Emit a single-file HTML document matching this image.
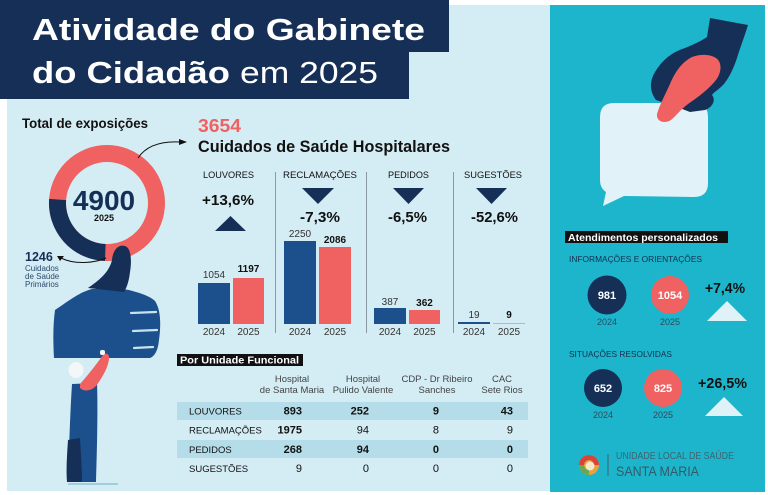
<!DOCTYPE html>
<html><head><meta charset="utf-8"><style>
html,body{margin:0;padding:0;background:#fff;}
svg{display:block;font-family:"Liberation Sans",sans-serif;}
</style></head><body>
<svg width="768" height="495" viewBox="0 0 768 495" xmlns="http://www.w3.org/2000/svg">
<rect x="0" y="0" width="768" height="495" fill="#ffffff"/>
<rect x="7" y="5" width="543" height="486" fill="#d4ecf4"/>
<rect x="550" y="5" width="215" height="487" fill="#1cb5cb"/>
<!-- title -->
<rect x="0" y="0" width="449" height="52" fill="#152f57"/>
<rect x="0" y="52" width="409" height="47" fill="#152f57"/>
<text x="32" y="40" font-size="31" font-weight="bold" fill="#fff" textLength="393" lengthAdjust="spacingAndGlyphs">Atividade do Gabinete</text>
<text x="32" y="83" font-size="31" font-weight="bold" fill="#fff" textLength="198" lengthAdjust="spacingAndGlyphs">do Cidadão</text>
<text x="240" y="83" font-size="31" fill="#fff" textLength="138" lengthAdjust="spacingAndGlyphs">em 2025</text>

<!-- total -->
<text x="22" y="128" font-size="14" font-weight="bold" fill="#111" textLength="126" lengthAdjust="spacingAndGlyphs">Total de exposições</text>
<circle cx="107" cy="203" r="49.5" fill="none" stroke="#f06161" stroke-width="17"/>
<path d="M105.3,252.5 A49.5,49.5 0 0 1 57.6,199.5" fill="none" stroke="#152f57" stroke-width="17"/>
<text x="104" y="210" font-size="28" font-weight="bold" fill="#152f57" text-anchor="middle">4900</text>
<text x="104" y="221" font-size="9" font-weight="bold" fill="#111" text-anchor="middle">2025</text>
<path d="M138,158 C146,146 160,141 180,142" fill="none" stroke="#111" stroke-width="1"/>
<polygon points="187,142 179,139 179,145" fill="#111"/>
<text x="25" y="261" font-size="12.5" font-weight="bold" fill="#152f57">1246</text>
<polygon points="60,261 57,256 64,256" fill="#111"/>
<path d="M61,258 C75,265 95,263 106,258" fill="none" stroke="#111" stroke-width="1"/>
<text x="25" y="271" font-size="8" fill="#2b4a6b">Cuidados</text>
<text x="25" y="279" font-size="8" fill="#2b4a6b">de Saúde</text>
<text x="25" y="287" font-size="8" fill="#2b4a6b">Primários</text>

<!-- thumbs up illustration -->
<path d="M55,310 C70,300 80,292 92,289 L124,289 C138,292 150,296 155,301 C161,310 161,325 159,340 C158,350 155,356 150,358 L54,358 C53,340 53,325 55,310 Z" fill="#1b508c"/>
<path d="M112,260 C113,249 119,244 125,246 C131,248 132,260 130,272 C129,281 127,287 124,292 L88,288 C98,281 109,273 112,260 Z" fill="#152f57"/>
<g stroke="#c9e3ee" stroke-width="2.2" stroke-linecap="round">
<line x1="131" y1="313" x2="156" y2="312"/>
<line x1="133" y1="331" x2="157" y2="330"/>
<line x1="134" y1="348" x2="153" y2="347"/>
</g>
<path d="M72,384 L97,383 C98,410 97,450 96,482 L68,482 C69,450 70,415 72,384 Z" fill="#1b508c"/>
<path d="M68,440 L80,438 C81,455 82,470 82,482 L67,482 C66,470 67,455 68,440 Z" fill="#152f57"/>
<path d="M80,384 C88,375 96,365 103,355 C106,352 110,354 109,359 C108,368 102,378 96,386 C91,391 84,392 80,388 Z" fill="#f06161"/>
<ellipse cx="76" cy="370" rx="7.5" ry="8" fill="#f4f7f8"/>
<rect x="100" y="350" width="5" height="5" rx="2" fill="#f4f7f8"/>
<rect x="68" y="483" width="50" height="2" fill="#9fcfd8"/>

<!-- hospital care -->
<text x="198" y="132" font-size="18" font-weight="bold" fill="#f06161" textLength="43" lengthAdjust="spacingAndGlyphs">3654</text>
<text x="198" y="152" font-size="17" font-weight="bold" fill="#111" textLength="252" lengthAdjust="spacingAndGlyphs">Cuidados de Saúde Hospitalares</text>
<g font-size="9.5" fill="#111">
<text x="203" y="178" textLength="51" lengthAdjust="spacingAndGlyphs">LOUVORES</text>
<text x="283" y="178" textLength="74" lengthAdjust="spacingAndGlyphs">RECLAMAÇÕES</text>
<text x="388" y="178" textLength="41" lengthAdjust="spacingAndGlyphs">PEDIDOS</text>
<text x="464" y="178" textLength="58" lengthAdjust="spacingAndGlyphs">SUGESTÕES</text>
</g>
<g stroke="#8a9aa2" stroke-width="1">
<line x1="275.5" y1="172" x2="275.5" y2="333"/>
<line x1="366.5" y1="172" x2="366.5" y2="333"/>
<line x1="453.5" y1="172" x2="453.5" y2="333"/>
</g>
<g font-size="15" font-weight="bold" fill="#111">
<text x="202" y="205" textLength="52" lengthAdjust="spacingAndGlyphs">+13,6%</text>
<text x="300" y="222" textLength="40" lengthAdjust="spacingAndGlyphs">-7,3%</text>
<text x="388" y="222" textLength="39" lengthAdjust="spacingAndGlyphs">-6,5%</text>
<text x="471" y="222" textLength="47" lengthAdjust="spacingAndGlyphs">-52,6%</text>
</g>
<g fill="#152f57">
<polygon points="215,231 246,231 230.5,216"/>
<polygon points="302,188 334,188 318,204"/>
<polygon points="393,188 424,188 408.5,204"/>
<polygon points="476,188 507,188 491.5,204"/>
</g>
<g>
<rect x="198" y="283" width="32" height="41" fill="#1b508c"/>
<rect x="233" y="278" width="31" height="46" fill="#f06161"/>
<rect x="284" y="241" width="32" height="83" fill="#1b508c"/>
<rect x="319" y="247" width="32" height="77" fill="#f06161"/>
<rect x="374" y="308" width="32" height="16" fill="#1b508c"/>
<rect x="409" y="310" width="31" height="14" fill="#f06161"/>
<rect x="458" y="322" width="32" height="2" fill="#1b508c"/>
<rect x="493" y="323" width="32" height="1" fill="#f0a0a0"/>
</g>
<g font-size="10" fill="#333" text-anchor="middle">
<text x="214" y="278">1054</text>
<text x="300" y="237">2250</text>
<text x="390" y="305">387</text>
<text x="474" y="318">19</text>
</g>
<g font-size="10" font-weight="bold" fill="#111" text-anchor="middle">
<text x="248.5" y="272">1197</text>
<text x="335" y="243">2086</text>
<text x="424.5" y="306">362</text>
<text x="509" y="318">9</text>
</g>
<g font-size="10" fill="#333" text-anchor="middle">
<text x="214" y="335">2024</text><text x="248.5" y="335">2025</text>
<text x="300" y="335">2024</text><text x="335" y="335">2025</text>
<text x="390" y="335">2024</text><text x="424.5" y="335">2025</text>
<text x="474" y="335">2024</text><text x="509" y="335">2025</text>
</g>

<!-- table -->
<rect x="177" y="354" width="126" height="12" fill="#111"/>
<text x="180" y="363.5" font-size="10" font-weight="bold" fill="#fff" textLength="119" lengthAdjust="spacingAndGlyphs">Por Unidade Funcional</text>
<g font-size="9.5" fill="#444" text-anchor="middle">
<text x="292" y="382">Hospital</text><text x="292" y="393">de Santa Maria</text>
<text x="363" y="382">Hospital</text><text x="363" y="393">Pulido Valente</text>
<text x="437" y="382">CDP - Dr Ribeiro</text><text x="437" y="393">Sanches</text>
<text x="502" y="382">CAC</text><text x="502" y="393">Sete Rios</text>
</g>
<rect x="177" y="402" width="351" height="18" fill="#b4dde9"/>
<rect x="177" y="440" width="351" height="18" fill="#b4dde9"/>
<g font-size="9.5" fill="#111">
<text x="189" y="414.5">LOUVORES</text>
<text x="189" y="433.5">RECLAMAÇÕES</text>
<text x="189" y="453">PEDIDOS</text>
<text x="189" y="472">SUGESTÕES</text>
</g>
<g font-size="11" fill="#111" text-anchor="end">
<g font-weight="bold">
<text x="302" y="414.5">893</text><text x="369" y="414.5">252</text><text x="439" y="414.5">9</text><text x="513" y="414.5">43</text>
<text x="302" y="433.5">1975</text>
<text x="302" y="453">268</text><text x="369" y="453">94</text><text x="439" y="453">0</text><text x="513" y="453">0</text>
</g>
<text x="369" y="433.5">94</text><text x="439" y="433.5">8</text><text x="513" y="433.5">9</text>
<text x="302" y="472">9</text><text x="369" y="472">0</text><text x="439" y="472">0</text><text x="513" y="472">0</text>
</g>

<!-- right panel illustration -->
<path d="M614,103 L694,103 Q708,103 708,117 L708,183 Q708,197 694,197 L624,196 L603,206 L606,192 Q600,188 600,180 L600,117 Q600,103 614,103 Z" fill="#e1f2f8"/>
<path d="M710,18 L748,25 C744,38 740,48 737,58 C733,70 728,80 722,86 C718,90 714,92 712,95 C716,100 713,107 705,110 L690,112 C680,108 668,104 656,100 C650,92 649,82 655,72 C662,60 672,52 685,48 C695,44 703,40 707,37 Z" fill="#152f57"/>
<path d="M716,58 C722,62 722,72 716,80 C708,90 698,97 688,104 C680,110 676,116 671,120 C665,124 656,122 657,114 C660,104 665,95 670,84 C675,72 682,62 692,57 C700,54 710,54 716,58 Z" fill="#f06161"/>

<rect x="565" y="231" width="163" height="12" fill="#111"/>
<text x="568" y="241" font-size="10" font-weight="bold" fill="#fff" textLength="150" lengthAdjust="spacingAndGlyphs">Atendimentos personalizados</text>
<text x="569" y="262" font-size="8.5" fill="#15304f" textLength="133" lengthAdjust="spacingAndGlyphs">INFORMAÇÕES E ORIENTAÇÕES</text>
<circle cx="607" cy="295" r="19.5" fill="#152f57"/>
<circle cx="670" cy="295" r="19" fill="#f06161"/>
<text x="607" y="299" font-size="11" font-weight="bold" fill="#fff" text-anchor="middle">981</text>
<text x="670" y="299" font-size="11" font-weight="bold" fill="#fff" text-anchor="middle">1054</text>
<text x="607" y="325" font-size="9" fill="#2a4d5e" text-anchor="middle">2024</text>
<text x="670" y="325" font-size="9" fill="#2a4d5e" text-anchor="middle">2025</text>
<text x="705" y="293" font-size="15" font-weight="bold" fill="#111" textLength="40" lengthAdjust="spacingAndGlyphs">+7,4%</text>
<polygon points="707,321 747,321 727,301" fill="#dff2f8"/>

<text x="569" y="357" font-size="8.5" fill="#15304f" textLength="103" lengthAdjust="spacingAndGlyphs">SITUAÇÕES RESOLVIDAS</text>
<circle cx="603" cy="388" r="19" fill="#152f57"/>
<circle cx="663" cy="388" r="19" fill="#f06161"/>
<text x="603" y="392" font-size="11" font-weight="bold" fill="#fff" text-anchor="middle">652</text>
<text x="663" y="392" font-size="11" font-weight="bold" fill="#fff" text-anchor="middle">825</text>
<text x="603" y="418" font-size="9" fill="#2a4d5e" text-anchor="middle">2024</text>
<text x="663" y="418" font-size="9" fill="#2a4d5e" text-anchor="middle">2025</text>
<text x="698" y="388" font-size="15" font-weight="bold" fill="#111" textLength="49" lengthAdjust="spacingAndGlyphs">+26,5%</text>
<polygon points="705,416 743,416 724,397" fill="#dff2f8"/>

<!-- logo -->
<circle cx="589" cy="465" r="10" fill="#e9a23b"/>
<path d="M579,465 A10,10 0 0 1 599,465 L594,465 A5,5 0 0 0 584,465 Z" fill="#d9443a"/>
<path d="M579,465 A10,10 0 0 0 589,475 L589,470 A5,5 0 0 1 584,465 Z" fill="#6aa84f"/>
<circle cx="590" cy="466" r="4.5" fill="#f3e9c8"/>
<line x1="608" y1="454" x2="608" y2="476" stroke="#3f6470" stroke-width="1"/>
<text x="616" y="459" font-size="10" fill="#3f6470" textLength="118" lengthAdjust="spacingAndGlyphs">UNIDADE LOCAL DE SAÚDE</text>
<text x="616" y="476" font-size="14" fill="#355a66" textLength="83" lengthAdjust="spacingAndGlyphs">SANTA MARIA</text>
</svg>
</body></html>
